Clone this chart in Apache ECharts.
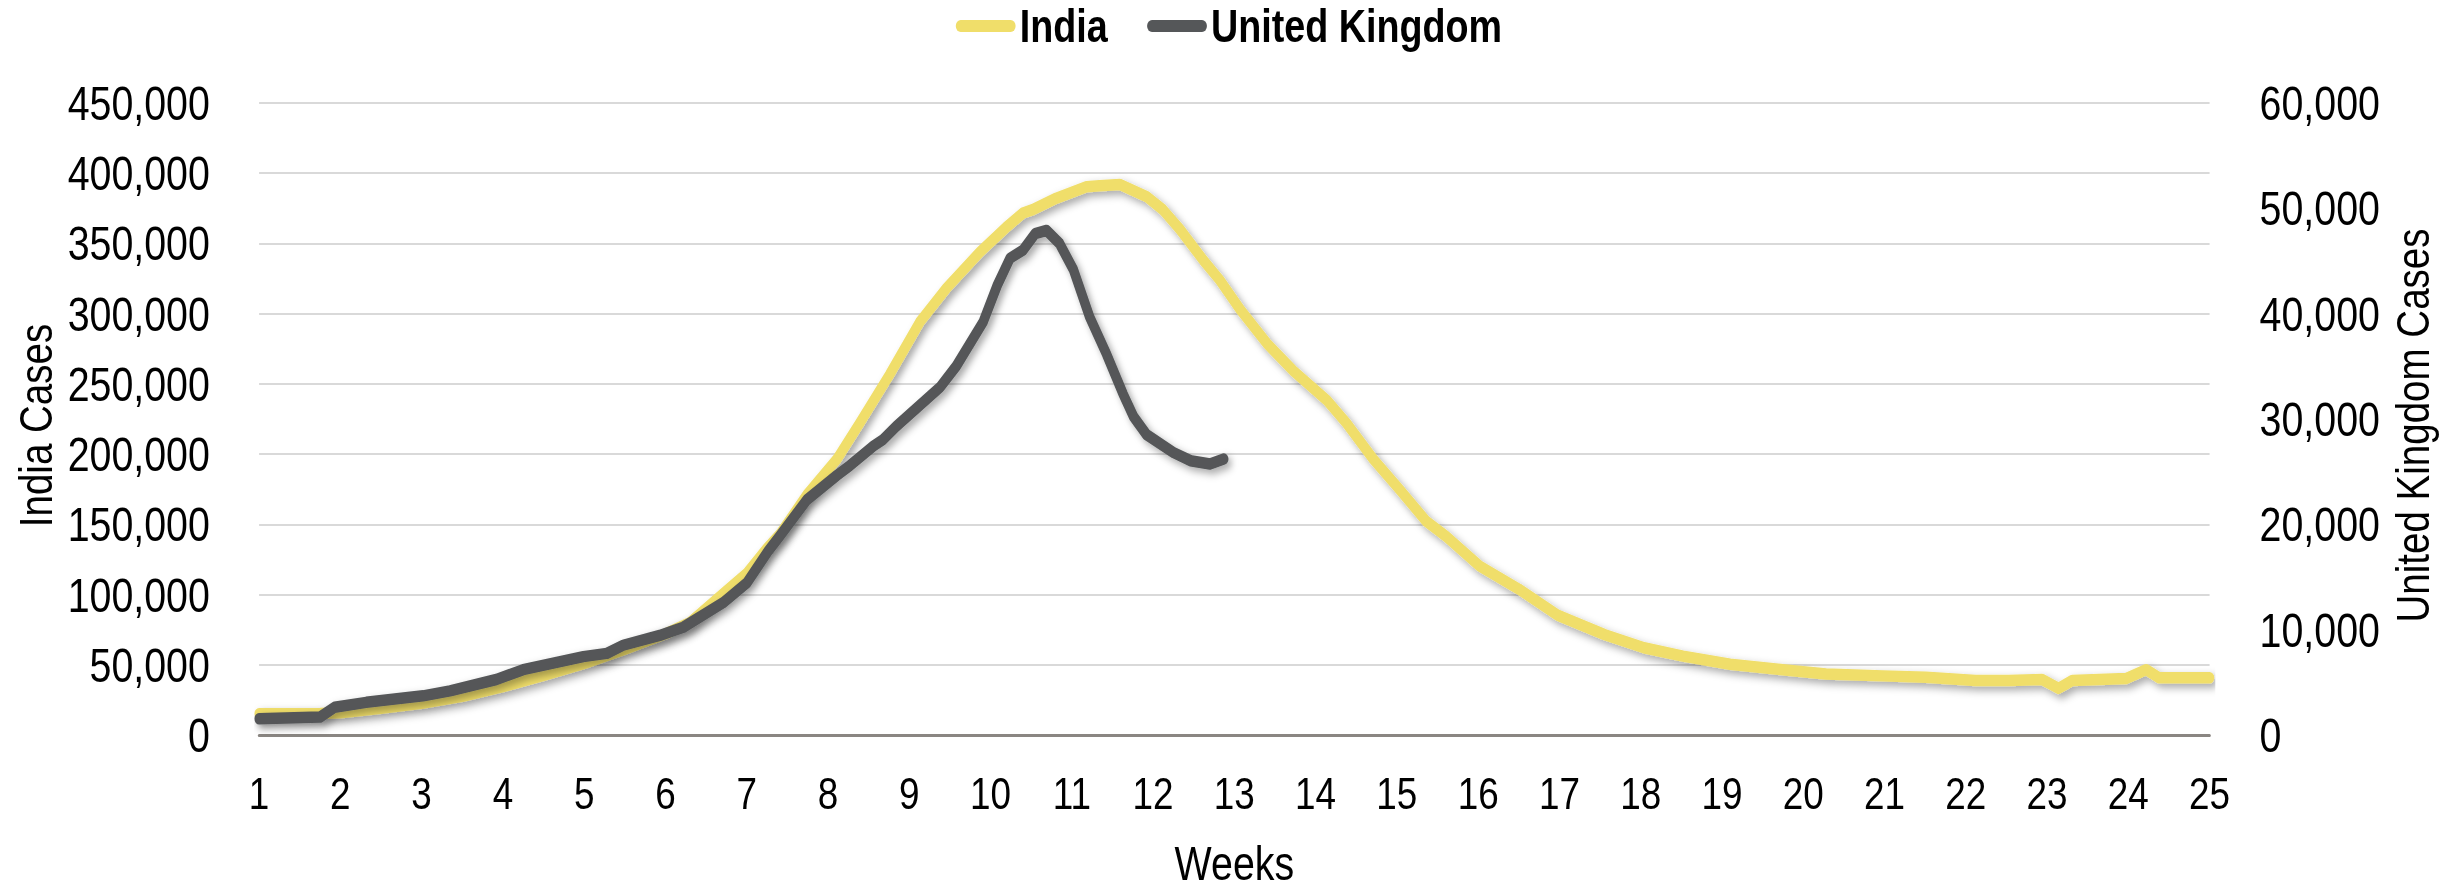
<!DOCTYPE html>
<html>
<head>
<meta charset="utf-8">
<script src="https://cdn.jsdelivr.net/npm/echarts@6/dist/echarts.min.js"></script>
<style>
html,body{margin:0;padding:0;background:#fff;overflow:hidden;width:2458px;height:892px;}
#wrap{width:2458px;height:892px;overflow:hidden;position:relative;}
/* Arial-Narrow look: draw at wider size, condense horizontally */
#chart{width:2998px;height:892px;transform:scaleX(0.81988);transform-origin:0 0;position:absolute;left:0;top:0;}
</style>
</head>
<body>
<div id="wrap"><div id="chart"></div></div>
<script>
// Week positions (x) and daily-case values
const indiaWeeks = [1, 1.75, 2.0, 2.5, 3.0, 3.5, 4.0, 4.5, 5.0, 5.5, 6.0, 6.3, 6.7, 7.0, 7.25, 7.41, 7.74, 8.11, 8.39, 8.76, 9.13, 9.46, 9.87, 10.19, 10.40, 10.52, 10.81, 11.18, 11.34, 11.59, 11.92, 12.12, 12.33, 12.62, 12.82, 13.07, 13.40, 13.73, 14.14, 14.38, 14.71, 15.04, 15.36, 15.61, 16.02, 16.5, 16.98, 17.56, 18.04, 18.52, 19.10, 19.75, 20.28, 20.98, 21.51, 22.12, 22.53, 22.94, 23.14, 23.31, 23.97, 24.22, 24.38, 25.0];
const indiaCases = [15100, 15300, 15800, 19000, 22500, 27500, 34500, 42500, 51000, 61000, 72000, 80000, 100000, 115000, 133000, 143000, 170900, 196400, 222000, 256800, 294000, 318300, 343900, 361300, 371700, 374100, 382200, 390300, 391000, 392000, 383400, 374100, 360100, 338000, 324000, 303200, 278900, 259100, 238200, 222000, 196400, 174400, 152300, 141200, 120200, 103900, 85300, 71400, 62100, 56200, 50400, 46500, 43500, 42100, 41150, 38800, 38800, 39500, 33200, 38800, 40200, 46500, 40700, 40700];

const ukWeeks = [1, 1.75, 1.93, 2.32, 3.02, 3.35, 3.92, 4.25, 4.99, 5.28, 5.48, 5.93, 6.22, 6.71, 7.0, 7.27, 7.41, 7.74, 8.11, 8.27, 8.56, 8.68, 8.84, 9.38, 9.58, 9.91, 10.08, 10.24, 10.40, 10.55, 10.69, 10.85, 11.02, 11.22, 11.43, 11.63, 11.76, 11.92, 12.25, 12.46, 12.70, 12.87];
const ukCases = [1544, 1700, 2630, 3100, 3720, 4190, 5270, 6200, 7440, 7750, 8520, 9450, 10230, 12560, 14420, 17520, 18910, 22320, 24650, 25580, 27440, 28060, 29300, 33020, 35030, 39220, 42630, 45260, 46040, 47590, 47900, 46660, 44180, 39690, 36120, 32400, 30230, 28520, 26820, 26040, 25730, 26200];

const seriesNames = ['India', 'United Kingdom'];
const leftAxisTitle = 'India Cases';
const rightAxisTitle = 'United Kingdom Cases';
const xAxisTitle = 'Weeks';

const SX = 0.81988; // horizontal condensing applied by CSS
const FONT = "'Liberation Sans', Arial, sans-serif";
const fmt = v => Math.round(v).toLocaleString('en-US');
const zip = (xs, ys) => xs.map((x, i) => [x, ys[i]]);

const chart = echarts.init(document.getElementById('chart'), null, {renderer: 'svg', width: 2998, height: 892});
const capsule = 'path://M6,0 L67,0 A6,6 0 0 1 67,12 L6,12 A6,6 0 0 1 6,0 Z';

const gridLeft = 316, gridRight = 303, gridTop = 103, gridBottom = 144;
const midY = gridTop + (892 - gridTop - gridBottom) / 2;

function rotatedTitle(text, cx) {
  return {
    type: 'text',
    x: cx, y: midY,
    rotation: Math.PI / 2,
    scaleX: SX, scaleY: 1 / SX,
    silent: true,
    style: {text: text, fontFamily: FONT, fontSize: 47, fill: '#000',
      align: 'center', verticalAlign: 'middle'}
  };
}

chart.setOption({
  backgroundColor: '#ffffff',
  animation: false,
  textStyle: {fontFamily: FONT},
  legend: {
    data: seriesNames,
    left: 'center',
    top: 3,
    padding: 0,
    itemWidth: 73,
    itemHeight: 12,
    itemGap: 48,
    icon: capsule,
    textStyle: {fontFamily: FONT, fontSize: 46, fontWeight: 'bold', color: '#000', lineHeight: 46}
  },
  grid: {left: gridLeft, right: gridRight, top: gridTop, bottom: gridBottom, containLabel: false},
  graphic: [
    rotatedTitle(leftAxisTitle, 35.3 / SX),
    rotatedTitle(rightAxisTitle, 2412.5 / SX)
  ],
  xAxis: {
    type: 'value',
    min: 1, max: 25, interval: 1,
    name: xAxisTitle,
    nameLocation: 'middle',
    nameGap: 104,
    nameTextStyle: {fontFamily: FONT, fontSize: 48, color: '#000'},
    axisLine: {show: true, onZero: false, lineStyle: {color: '#8a8682', width: 3}},
    axisTick: {show: false},
    splitLine: {show: false},
    axisLabel: {fontFamily: FONT, fontSize: 45, color: '#000', margin: 36}
  },
  yAxis: [{
    type: 'value',
    position: 'left',
    min: 0, max: 450000, interval: 50000,
    axisLine: {show: false},
    axisTick: {show: false},
    splitLine: {show: true, lineStyle: {color: '#d9d9d9', width: 2}},
    axisLabel: {fontFamily: FONT, fontSize: 48, color: '#000', margin: 60, formatter: fmt}
  }, {
    type: 'value',
    position: 'right',
    min: 0, max: 60000, interval: 10000,
    axisLine: {show: false},
    axisTick: {show: false},
    splitLine: {show: false},
    axisLabel: {fontFamily: FONT, fontSize: 48, color: '#000', margin: 61, formatter: fmt}
  }],
  series: [{
    name: seriesNames[0],
    type: 'line',
    yAxisIndex: 0,
    data: zip(indiaWeeks, indiaCases),
    symbol: 'none',
    itemStyle: {color: '#f0de6a'},
    lineStyle: {color: '#f0de6a', width: 11.5, cap: 'round', join: 'round',
      shadowColor: 'rgba(0,0,0,0.35)', shadowBlur: 8, shadowOffsetX: 4, shadowOffsetY: 4},
    z: 2
  }, {
    name: seriesNames[1],
    type: 'line',
    yAxisIndex: 1,
    data: zip(ukWeeks, ukCases),
    symbol: 'none',
    itemStyle: {color: '#555759'},
    lineStyle: {color: '#555759', width: 11.5, cap: 'round', join: 'round',
      shadowColor: 'rgba(0,0,0,0.35)', shadowBlur: 8, shadowOffsetX: 4, shadowOffsetY: 4},
    z: 3
  }]
});
</script>
</body>
</html>
